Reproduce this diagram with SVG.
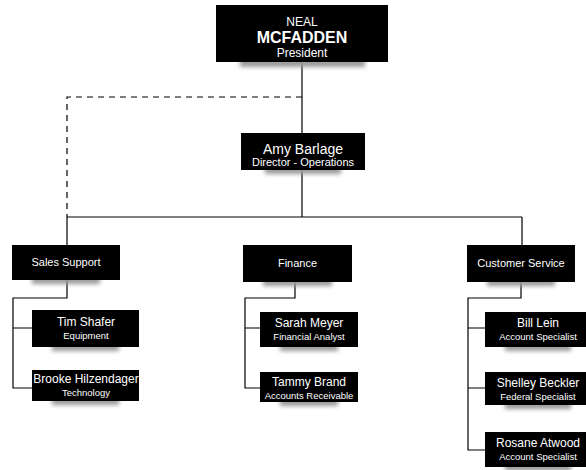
<svg xmlns="http://www.w3.org/2000/svg" width="586" height="470" viewBox="0 0 586 470">
<defs>
<filter id="blur" x="-20%" y="-100%" width="140%" height="300%"><feGaussianBlur stdDeviation="2"/></filter>
</defs>
<style>
.box{fill:#000}
.sh{fill:#999;filter:url(#blur)}
.t{font-family:"Liberation Sans",Arial,sans-serif;fill:#fff;text-anchor:middle}
.n{font-size:12px}
.s{font-size:9.5px}
.d{font-size:11px}
.c{fill:none;stroke:#000;stroke-width:1.2}
.dash{fill:none;stroke:#000;stroke-width:1.2;stroke-dasharray:6 5}
</style>
<rect width="586" height="470" fill="#fff"/>
<g id="connectors">
<path class="c" d="M302 62V133"/>
<path class="dash" d="M302 97H67V217"/>
<path class="c" d="M302 170V217M67 217H522M67 217V245M522 217V245"/>
<path class="c" d="M67 280V298H13V388H32M13 328H32"/>
<path class="c" d="M295 282V298H245V388H260M245 328H260"/>
<path class="c" d="M521 282V298H468V450H485M468 328H485M468 388H485"/>
</g>
<g id="president">
<rect class="sh" x="240" y="59" width="125" height="8"/>
<rect class="box" x="216" y="5" width="172" height="57"/>
<text class="t" x="302" y="26" font-size="12">NEAL</text>
<text class="t" x="302" y="43" font-size="16" font-weight="bold">MCFADDEN</text>
<text class="t" x="302" y="57" font-size="12">President</text>
</g>
<g id="amy">
<rect class="sh" x="265" y="167" width="76" height="7"/>
<rect class="box" x="241" y="133" width="124" height="37"/>
<text class="t" x="303" y="154" font-size="14">Amy Barlage</text>
<text class="t" x="303" y="166" font-size="11">Director - Operations</text>
</g>
<g id="sales">
<rect class="sh" x="32" y="277" width="68" height="7"/>
<rect class="box" x="12" y="245" width="108" height="35"/>
<text class="t d" x="66" y="266">Sales Support</text>
</g>
<g id="finance">
<rect class="sh" x="263" y="279" width="69" height="7"/>
<rect class="box" x="243" y="245" width="109" height="37"/>
<text class="t d" x="297.5" y="267">Finance</text>
</g>
<g id="customer">
<rect class="sh" x="487" y="279" width="68" height="7"/>
<rect class="box" x="467" y="245" width="108" height="37"/>
<text class="t d" x="521" y="267">Customer Service</text>
</g>
<g id="tim">
<rect class="sh" x="52" y="344" width="67" height="7"/>
<rect class="box" x="32" y="310" width="107" height="37"/>
<text class="t n" x="86" y="326">Tim Shafer</text>
<text class="t s" x="86" y="339">Equipment</text>
</g>
<g id="brooke">
<rect class="sh" x="52" y="398" width="67" height="7"/>
<rect class="box" x="32" y="370" width="107" height="31"/>
<text class="t n" x="86" y="383">Brooke Hilzendager</text>
<text class="t s" x="86" y="396">Technology</text>
</g>
<g id="sarah">
<rect class="sh" x="280" y="344" width="58" height="7"/>
<rect class="box" x="260" y="312" width="98" height="35"/>
<text class="t n" x="309" y="327">Sarah Meyer</text>
<text class="t s" x="309" y="340">Financial Analyst</text>
</g>
<g id="tammy">
<rect class="sh" x="280" y="399" width="58" height="7"/>
<rect class="box" x="260" y="372" width="98" height="30"/>
<text class="t n" x="309" y="386">Tammy Brand</text>
<text class="t s" x="309" y="399">Accounts Receivable</text>
</g>
<g id="bill">
<rect class="sh" x="505" y="344" width="66" height="7"/>
<rect class="box" x="485" y="312" width="106" height="35"/>
<text class="t n" x="538" y="327">Bill Lein</text>
<text class="t s" x="538" y="340">Account Specialist</text>
</g>
<g id="shelley">
<rect class="sh" x="505" y="402" width="66" height="7"/>
<rect class="box" x="485" y="372" width="106" height="33"/>
<text class="t n" x="538" y="387">Shelley Beckler</text>
<text class="t s" x="538" y="400">Federal Specialist</text>
</g>
<g id="rosane">
<rect class="sh" x="505" y="464" width="66" height="7"/>
<rect class="box" x="485" y="432" width="106" height="35"/>
<text class="t n" x="538" y="447">Rosane Atwood</text>
<text class="t s" x="538" y="460">Account Specialist</text>
</g>
</svg>
